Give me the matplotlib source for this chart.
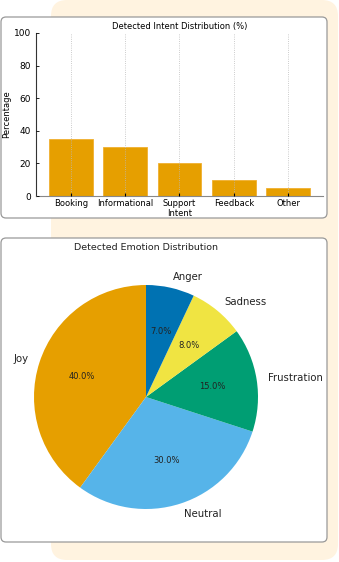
import matplotlib
matplotlib.use("Agg")
import matplotlib.pyplot as plt
from matplotlib.patches import FancyBboxPatch
from matplotlib.transforms import IdentityTransform

# --- data ---
intents = ["Booking", "Informational", "Support", "Feedback", "Other"]
intent_pct = [35, 30, 20, 10, 5]

emotions = ["Joy", "Neutral", "Frustration", "Sadness", "Anger"]
emotion_pct = [40, 30, 15, 8, 7]
emotion_colors = ["#E69F00", "#56B4E9", "#009E73", "#F0E442", "#0072B2"]

W, H = 339, 562
fig = plt.figure(figsize=(W / 100, H / 100), dpi=100)


def box(x0, y0, x1, y1, r, fc, ec=None, lw=0):
    # pixel coords from top-left
    p = FancyBboxPatch((x0, H - y1), x1 - x0, y1 - y0,
                       boxstyle=f"round,pad=0,rounding_size={r}",
                       fc=fc, ec=ec if ec else "none", lw=lw,
                       transform=IdentityTransform(), zorder=-5)
    fig.add_artist(p)


### background panels ###
box(51, 0, 338, 560, 16, "#FFF3E0")
box(1, 17, 327, 218, 5, "white", "#999999", 0.9)
box(1, 238, 327, 542, 5, "white", "#999999", 0.9)

### bar chart ###
ax = fig.add_axes([36 / W, 1 - 196 / H, 287 / W, 163 / H])
ax.bar(range(len(intents)), intent_pct, width=0.8, color="#E69F00",
       edgecolor="#F0B030", linewidth=0.6, zorder=2)
ax.set_ylim(0, 100)
ax.set_xticks(range(len(intents)))
ax.set_xticklabels(intents, fontsize=6)
ax.set_yticks([0, 20, 40, 60, 80, 100])
ax.tick_params(axis="y", labelsize=6.5, direction="in", length=2, width=0.6)
ax.tick_params(axis="x", direction="in", length=2, width=0.8, pad=2)
ax.set_ylabel("Percentage", fontsize=6, labelpad=2)
ax.set_xlabel("Intent", fontsize=6, labelpad=1)
ax.set_title("Detected Intent Distribution (%)", fontsize=6, pad=3)
ax.grid(axis="x", linestyle=":", color="#BBBBBB", linewidth=0.6, zorder=3)
ax.set_axisbelow(False)
ax.spines["top"].set_visible(False)
ax.spines["right"].set_visible(False)
ax.spines["bottom"].set_color("#888888")
ax.spines["left"].set_color("#333333")
ax.spines["left"].set_linewidth(0.8)
ax.set_facecolor("none")

### pie chart ###
ax2 = fig.add_axes([34 / W, 1 - 509 / H, 224 / W, 224 / H])
ax2.pie(emotion_pct, labels=emotions, colors=emotion_colors, startangle=90,
        autopct="%1.1f%%", textprops={"fontsize": 7.3, "color": "#222222"})
for t in ax2.texts:
    if "%" in t.get_text():
        t.set_fontsize(6)
ax2.set_xlim(-1, 1)
ax2.set_ylim(-1, 1)
ax2.set_aspect("equal")
fig.text(146 / W, 1 - 248 / H, "Detected Emotion Distribution", fontsize=6.8,
         ha="center", va="center", color="#222222")

plt.savefig("out.png", dpi=100)
